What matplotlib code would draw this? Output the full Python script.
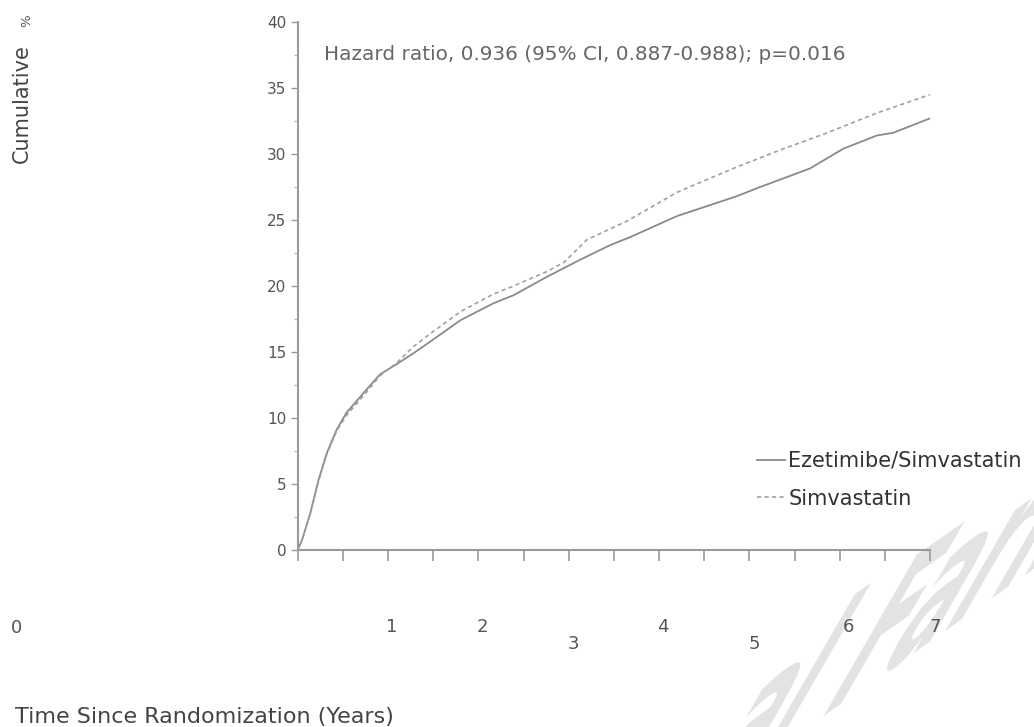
import matplotlib
matplotlib.use("Agg")
import matplotlib.pyplot as plt
import numpy as np
from matplotlib.textpath import TextPath
from matplotlib.patches import PathPatch
from matplotlib.transforms import Affine2D
from matplotlib.font_manager import FontProperties

# ---------------- data ----------------
years_ez = [0, 0.05, 0.14, 0.23, 0.32, 0.43, 0.54, 0.73, 0.91, 1.10, 1.28, 1.47,
            1.80, 2.17, 2.39, 2.76, 3.13, 3.46, 3.68, 4.20, 4.86, 5.12, 5.67,
            6.04, 6.41, 6.59, 7.0]
cum_ez = [0, 0.8, 2.8, 5.3, 7.3, 9.1, 10.4, 11.9, 13.3, 14.1, 14.9, 15.8,
          17.4, 18.7, 19.3, 20.7, 22.0, 23.1, 23.7, 25.3, 26.8, 27.5, 28.9,
          30.4, 31.4, 31.6, 32.7]

years_sim = [0, 0.05, 0.14, 0.23, 0.32, 0.43, 0.54, 0.73, 0.91, 1.10, 1.28, 1.47,
             1.80, 2.17, 2.39, 2.76, 2.95, 3.20, 3.64, 4.20, 4.82, 5.34, 5.86,
             6.41, 7.0]
cum_sim = [0, 0.8, 2.8, 5.2, 7.2, 9.0, 10.2, 11.7, 13.2, 14.2, 15.4, 16.4,
           18.05, 19.4, 20.0, 21.1, 21.8, 23.5, 24.9, 27.1, 28.9, 30.3, 31.6,
           33.1, 34.5]

series_labels = ["Ezetimibe/Simvastatin", "Simvastatin"]
y_ticks = [0, 5, 10, 15, 20, 25, 30, 35, 40]
x_tick_labels = ["0", "1", "2", "3", "4", "5", "6", "7"]
hr_text = "Hazard ratio, 0.936 (95% CI, 0.887-0.988); p=0.016"
x_title = "Time Since Randomization (Years)"
y_title = "Cumulative"
y_title_pct = "%"

# ---------------- layout ----------------
W, H = 1034, 727
fig = plt.figure(figsize=(W / 100, H / 100), dpi=100)
fig.patch.set_facecolor("white")
plt.rcParams["font.family"] = ["DejaVu Sans"]

def px(x, y):
    return (x / W, 1 - y / H)

# watermark (light grey, sheared) in display pixels, drawn behind everything
fp = FontProperties(family="DejaVu Sans", weight="bold")
tp = TextPath((0, 0), "al Farma", size=1, prop=fp)
sx, sy = 115.0, 255.0
a1, a2 = np.deg2rad(35), np.deg2rad(60)
F_base_img = (815, 722)
off = 1.366 * sx
ox = F_base_img[0] - off * np.cos(a1)
oy_img = F_base_img[1] + off * np.sin(a1)
M = np.array([[sx * np.cos(a1), sy * np.cos(a2), ox],
              [sx * np.sin(a1), sy * np.sin(a2), H - oy_img],
              [0, 0, 1]])
wm = PathPatch(tp, transform=Affine2D(M), facecolor="#e3e3e3", edgecolor="none",
               zorder=-5)
fig.patches.append(wm)

ax = fig.add_axes([297.7 / W, 1 - 550 / H, (930 - 297.7) / W, (550 - 22) / H])
ax.set_zorder(2)
ax.patch.set_alpha(0)
ax.set_xlim(0, 7)
ax.set_ylim(0, 40)

l1, = ax.plot(years_ez, cum_ez, color="#8a8a8a", lw=1.3, label=series_labels[0],
              solid_joinstyle="round")
l2, = ax.plot(years_sim, cum_sim, color="#a0a0a0", lw=1.2, ls=(0, (2.5, 2)),
              label=series_labels[1])

for s in ["top", "right"]:
    ax.spines[s].set_visible(False)
for s in ["left", "bottom"]:
    ax.spines[s].set_color("#9a9a9a")
    ax.spines[s].set_linewidth(1.5)

ax.set_xticks(np.arange(0, 7.01, 0.5))
ax.set_xticklabels([])
ax.tick_params(axis="x", length=8, width=1.2, color="#9a9a9a", direction="out")
ax.set_yticks(y_ticks)
ax.set_yticks(np.arange(2.5, 40, 5), minor=True)
ax.tick_params(axis="y", which="major", length=5, width=1, color="#9a9a9a",
               labelsize=11, labelcolor="#555555", pad=3)
ax.tick_params(axis="y", which="minor", length=3, width=1, color="#bbbbbb")

# displaced x tick labels as in the reference
label_pos = [(16, 628), (392, 627), (482, 627), (573, 644), (663, 627),
             (754, 644), (848, 627), (935, 627)]
for lab, (xx, yy) in zip(x_tick_labels, label_pos):
    fig.text(*px(xx, yy), lab, ha="center", va="center", fontsize=13,
             color="#555555", zorder=3)

fig.text(*px(324, 55), hr_text, ha="left", va="center", fontsize=14.4,
         color="#666666")

fig.text(*px(22, 104), y_title, rotation=90, ha="center", va="center",
         fontsize=15, color="#444444")
fig.text(*px(26.5, 20.5), y_title_pct, rotation=90, ha="center", va="center",
         fontsize=9.5, color="#555555")

fig.text(*px(15, 717), x_title, ha="left", va="center", fontsize=16,
         color="#444444")

ax.legend(handles=[l1, l2], loc="upper left",
          bbox_to_anchor=px(757, 451), bbox_transform=fig.transFigure,
          frameon=False, fontsize=15, handlelength=1.35, handletextpad=0.15,
          labelspacing=0.85, borderpad=0, borderaxespad=0, labelcolor="#333333")

fig.savefig("out.png", dpi=100, facecolor="white")
